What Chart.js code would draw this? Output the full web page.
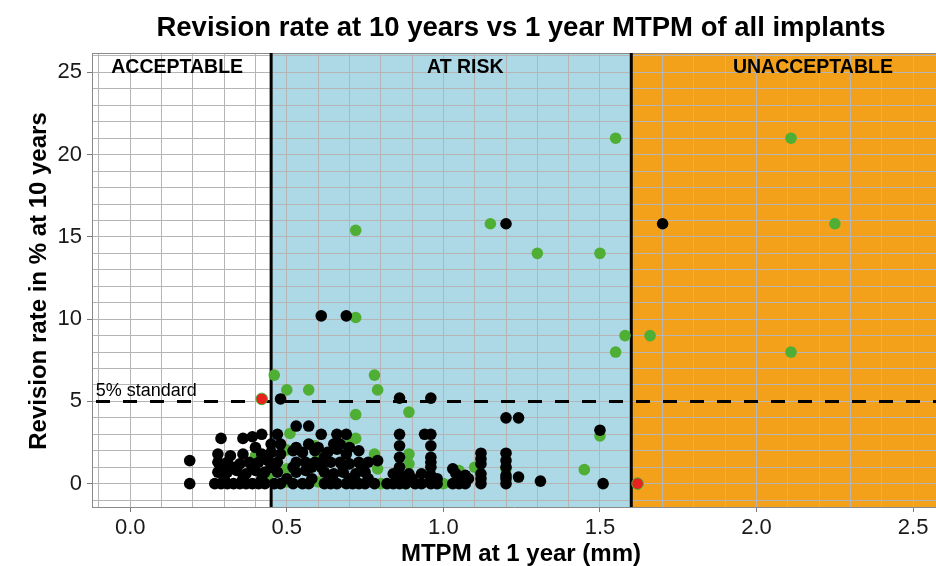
<!DOCTYPE html>
<html lang="en">
<head>
    <meta charset="UTF-8">
    <title>Revision rate vs MTPM</title>
    <script src="https://cdn.jsdelivr.net/npm/chart.js"></script>
    <style>
        body {
            margin: 0;
            padding: 0;
            background: #ffffff;
        }
        .chart-container {
            position: relative;
            width: 936px;
            height: 566px;
        }
    </style>
</head>
<body>
    <div class="chart-container">
        <canvas id="mtpmChart" width="936" height="566"></canvas>
    </div>

    <script>
        // Implants with no revision signal (black)
        const blackMtpm = [
            1.20, 1.70, 0.61, 0.69, 0.48, 0.86, 0.96, 1.20, 1.24, 1.50, 0.53, 0.57,
            0.29, 0.36, 0.39, 0.42, 0.47, 0.61, 0.66, 0.69, 0.86, 0.94, 0.96,
            0.45, 0.48, 0.57, 0.65, 0.67, 0.40, 0.53, 0.60, 0.70, 0.86, 0.96,
            0.28, 0.32, 0.36, 0.42, 0.45, 0.48, 0.52, 0.55, 0.59, 0.63, 0.66, 0.69, 0.73,
            0.86, 0.96, 1.12, 1.20,
            0.19, 0.28, 0.31, 0.35, 0.38, 0.41, 0.44, 0.47, 0.53, 0.56, 0.59, 0.62, 0.64, 0.67,
            0.70, 0.73, 0.76, 0.79, 0.96, 1.12, 1.20,
            0.30, 0.33, 0.39, 0.45, 0.52, 0.58, 0.61, 0.68, 0.74, 0.86, 0.96, 1.03, 1.12, 1.20,
            0.28, 0.31, 0.34, 0.37, 0.40, 0.43, 0.47, 0.53, 0.56, 0.62, 0.65, 0.68, 0.72, 0.75,
            0.84, 0.86, 0.89, 0.93, 0.96, 1.04, 1.07, 1.12, 1.20, 1.24,
            0.30, 0.36, 0.42, 0.50, 0.58, 0.64, 0.70, 0.76, 0.86, 0.90, 0.96, 0.98, 1.08, 1.12, 1.20,
            0.19, 0.27, 0.29, 0.31, 0.33, 0.35, 0.37, 0.39, 0.41, 0.43, 0.46, 0.48, 0.52, 0.55,
            0.57, 0.62, 0.64, 0.66, 0.69, 0.71, 0.73, 0.75, 0.78, 0.82, 0.84, 0.86, 0.88, 0.91,
            0.93, 0.96, 0.98, 1.03, 1.05, 1.07, 1.12, 1.20, 1.31, 1.51
        ];
        const blackRevision = [
            15.8, 15.8, 10.2, 10.2, 5.15, 5.2, 5.2, 4.0, 4.0, 3.25, 3.5, 3.5,
            2.75, 2.75, 2.85, 3.0, 3.0, 3.0, 3.0, 3.0, 3.0, 3.0, 3.0,
            2.4, 2.4, 2.4, 2.4, 2.4, 2.2, 2.2, 2.2, 2.2, 2.3, 2.3,
            1.8, 1.7, 1.8, 1.8, 1.9, 1.8, 2.0, 1.9, 2.0, 1.9, 2.1, 1.8, 2.0,
            1.6, 1.6, 1.85, 1.85,
            1.4, 1.3, 1.3, 1.2, 1.3, 1.3, 1.4, 1.3, 1.3, 1.3, 1.3, 1.6, 1.3, 1.3,
            1.2, 1.3, 1.3, 1.4, 1.3, 1.5, 1.4,
            1.0, 1.0, 1.0, 1.0, 1.0, 1.0, 1.0, 1.0, 1.0, 1.0, 1.0, 0.9, 1.2, 1.0,
            0.7, 0.7, 0.8, 0.6, 0.8, 0.7, 0.7, 0.7, 0.8, 0.7, 0.6, 0.7, 0.6, 0.7,
            0.6, 0.5, 0.6, 0.6, 0.5, 0.6, 0.5, 0.6, 0.5, 0.4,
            0.3, 0.3, 0.3, 0.3, 0.3, 0.3, 0.3, 0.3, 0.3, 0.3, 0.3, 0.3, 0.3, 0.3, 0.3,
            0, 0, 0, 0, 0, 0, 0, 0, 0, 0, 0, 0, 0, 0,
            0, 0, 0, 0, 0, 0, 0, 0, 0, 0, 0, 0, 0, 0,
            0, 0, 0, 0, 0, 0, 0, 0, 0.15, 0
        ];

        // Implants flagged green
        const greenMtpm = [
            1.55, 2.11, 0.72, 1.15, 2.25, 1.30, 1.50, 0.72, 1.58, 1.66, 1.55, 2.11,
            0.46, 0.78, 0.50, 0.57, 0.79, 0.72, 0.89, 1.50, 1.45, 1.20, 1.10, 1.05,
            1.00, 0.88, 0.80, 0.89, 0.89, 0.78, 0.79, 0.72, 0.70, 0.51, 0.50, 0.50,
            0.50, 0.40, 0.44, 0.60, 0.60, 0.59
        ];
        const greenRevision = [
            21, 21, 15.4, 15.8, 15.8, 14, 14, 10.1, 9, 9, 8, 8,
            6.6, 6.6, 5.7, 5.7, 5.7, 4.2, 4.35, 2.9, 0.85, 0.9, 1.0, 0.8,
            0, 0, 0, 1.8, 1.2, 1.8, 0.9, 2.75, 2.45, 3.05, 2.05, 0.9,
            0.1, 1.7, 0.5, 1.6, 0.1, 2.3
        ];

        // Implants flagged red
        const redMtpm = [0.42, 1.62];
        const redRevision = [5.15, 0];

        // Thresholds and zone names
        const zoneLimits = [0.45, 1.6];
        const standardRate = 5;
        const zoneNames = ['ACCEPTABLE', 'AT RISK', 'UNACCEPTABLE'];
        const zoneLabelX = [0.15, 1.07, 2.18];
        const zoneLabelY = 25.3;

        const FONT = '"Liberation Sans", Arial, sans-serif';

        const toPoints = (xs, ys) => xs.map((v, i) => ({ x: v, y: ys[i] }));

        const zonesPlugin = {
            id: 'zones',
            beforeDraw(chart) {
                const { ctx, chartArea: { left, right, top, bottom }, scales: { x } } = chart;
                const x1 = x.getPixelForValue(zoneLimits[0]);
                const x2 = x.getPixelForValue(zoneLimits[1]);
                ctx.save();
                ctx.fillStyle = '#ffffff';
                ctx.fillRect(0, 0, chart.width, chart.height);
                ctx.fillStyle = '#add8e6';
                ctx.fillRect(x1, top, x2 - x1, bottom - top);
                ctx.fillStyle = '#f3a11b';
                ctx.fillRect(x2, top, right - x2, bottom - top);
                ctx.restore();
            },
            beforeDatasetsDraw(chart) {
                const { ctx, chartArea: { left, right, top, bottom }, scales: { x, y } } = chart;
                ctx.save();
                // panel border (top)
                ctx.strokeStyle = '#8a8a8a';
                ctx.lineWidth = 1;
                ctx.beginPath();
                ctx.moveTo(left, top + 0.5);
                ctx.lineTo(right, top + 0.5);
                ctx.stroke();

                // zone boundaries
                ctx.strokeStyle = '#000000';
                ctx.lineWidth = 3;
                zoneLimits.forEach(v => {
                    const px = x.getPixelForValue(v);
                    ctx.beginPath();
                    ctx.moveTo(px, top);
                    ctx.lineTo(px, bottom);
                    ctx.stroke();
                });

                // 5% standard
                const py = y.getPixelForValue(standardRate);
                ctx.setLineDash([14, 13]);
                ctx.beginPath();
                ctx.moveTo(left + 4, py);
                ctx.lineTo(right, py);
                ctx.stroke();
                ctx.setLineDash([]);

                ctx.fillStyle = '#000000';
                ctx.font = '18px ' + FONT;
                ctx.textAlign = 'left';
                ctx.textBaseline = 'alphabetic';
                ctx.fillText('5% standard', x.getPixelForValue(-0.11), py - 5);

                ctx.font = 'bold 19.5px ' + FONT;
                ctx.textAlign = 'center';
                ctx.textBaseline = 'middle';
                zoneNames.forEach((name, i) => {
                    ctx.fillText(name, x.getPixelForValue(zoneLabelX[i]), y.getPixelForValue(zoneLabelY));
                });
                ctx.restore();
            },
            afterDraw(chart) {
                const { ctx } = chart;
                ctx.save();
                ctx.fillStyle = '#000000';
                ctx.textAlign = 'center';
                ctx.textBaseline = 'alphabetic';
                ctx.font = 'bold 27.5px ' + FONT;
                ctx.fillText('Revision rate at 10 years vs 1 year MTPM of all implants', 521, 36);
                ctx.font = 'bold 24px ' + FONT;
                ctx.fillText('MTPM at 1 year (mm)', 521, 561);
                ctx.translate(46, 281);
                ctx.rotate(-Math.PI / 2);
                ctx.fillText('Revision rate in % at 10 years', 0, 0);
                ctx.restore();
            }
        };

        const isMajor = (v, step) => Math.abs(v / step - Math.round(v / step)) < 1e-6;

        new Chart(document.getElementById('mtpmChart'), {
            type: 'scatter',
            data: {
                datasets: [
                    { data: toPoints(blackMtpm, blackRevision), backgroundColor: '#000000' },
                    { data: toPoints(greenMtpm, greenRevision), backgroundColor: '#4fae34' },
                    { data: toPoints(redMtpm, redRevision), backgroundColor: '#e8231f', borderColor: '#4fae34', borderWidth: 1 }
                ]
            },
            options: {
                responsive: false,
                animation: false,
                events: [],
                layout: { autoPadding: false, padding: { top: 53, left: 0, right: 0, bottom: 0 } },
                elements: { point: { radius: 5.8, borderWidth: 0, hoverRadius: 5.8 } },
                plugins: {
                    legend: { display: false },
                    tooltip: { enabled: false }
                },
                scales: {
                    x: {
                        type: 'linear',
                        min: -0.122,
                        max: 2.573,
                        afterFit(scale) {
                            scale.height = 59;
                            scale.paddingLeft = 0;
                            scale.paddingRight = 0;
                        },
                        ticks: {
                            stepSize: 0.1,
                            includeBounds: false,
                            autoSkip: false,
                            maxRotation: 0,
                            padding: 3,
                            color: '#1a1a1a',
                            font: { family: FONT, size: 22 },
                            callback: v => isMajor(v, 0.5) ? v.toFixed(1) : ''
                        },
                        grid: {
                            color: '#b5b5b5',
                            lineWidth: 1,
                            tickLength: 5,
                            tickColor: ctx => isMajor(ctx.tick.value, 0.5) ? '#7a7a7a' : 'rgba(0,0,0,0)'
                        },
                        border: { color: '#8a8a8a', width: 1 }
                    },
                    y: {
                        type: 'linear',
                        min: -1.42,
                        max: 26.18,
                        afterFit(scale) {
                            scale.width = 92;
                            scale.paddingTop = 0;
                            scale.paddingBottom = 0;
                        },
                        ticks: {
                            stepSize: 1,
                            includeBounds: false,
                            autoSkip: false,
                            padding: 5,
                            color: '#1a1a1a',
                            font: { family: FONT, size: 22 },
                            callback: v => isMajor(v, 5) ? String(Math.round(v)) : ''
                        },
                        grid: {
                            color: '#b5b5b5',
                            lineWidth: 1,
                            tickLength: 5,
                            tickColor: ctx => isMajor(ctx.tick.value, 5) ? '#7a7a7a' : 'rgba(0,0,0,0)'
                        },
                        border: { color: '#8a8a8a', width: 1 }
                    }
                }
            },
            plugins: [zonesPlugin]
        });
    </script>
</body>
</html>
